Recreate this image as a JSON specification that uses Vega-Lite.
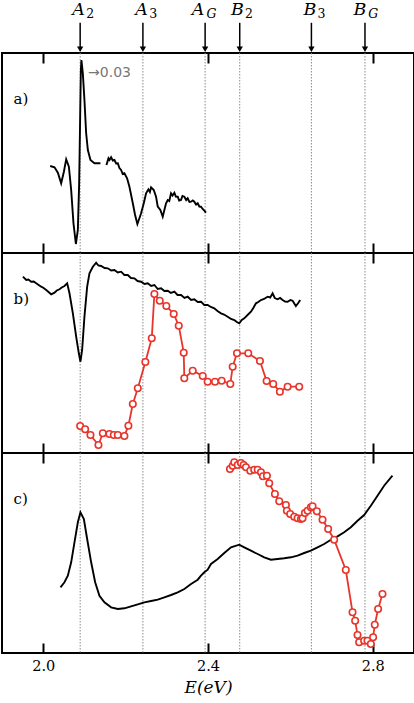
{
  "$schema": "https://vega.github.io/schema/vega-lite/v6.json",
  "padding": {"left": 1, "top": 0, "right": 0, "bottom": 0},
  "spacing": 0,
  "bounds": "flush",
  "config": {
    "view": {"stroke": "black", "strokeWidth": 2},
    "axis": {"grid": false}
  },
  "datasets": {
    "marks": [
      {"e": 2.0897, "name": "A2"}, {"e": 2.242, "name": "A3"}, {"e": 2.393, "name": "AG"},
      {"e": 2.477, "name": "B2"}, {"e": 2.651, "name": "B3"}, {"e": 2.781, "name": "BG"}
    ],
    "head_base": [
      {"e": 2.0861, "t": "A"}, {"e": 2.2388, "t": "A"}, {"e": 2.3758, "t": "A"},
      {"e": 2.4715, "t": "B"}, {"e": 2.6473, "t": "B"}, {"e": 2.7685, "t": "B"}
    ],
    "head_sub": [
      {"e": 2.1141, "t": "2", "style": "normal"}, {"e": 2.2668, "t": "3", "style": "normal"},
      {"e": 2.4083, "t": "G", "style": "italic"}, {"e": 2.4995, "t": "2", "style": "normal"},
      {"e": 2.6753, "t": "3", "style": "normal"}, {"e": 2.8010, "t": "G", "style": "italic"}
    ],
    "a_line": [
      {"e": 2.0170, "v": 87, "seg": 1}, {"e": 2.0274, "v": 85.7, "seg": 1}, {"e": 2.0356, "v": 80.3, "seg": 1},
      {"e": 2.0436, "v": 69.7, "seg": 1}, {"e": 2.0502, "v": 81.3, "seg": 1}, {"e": 2.0558, "v": 93.7, "seg": 1},
      {"e": 2.0623, "v": 86.3, "seg": 1}, {"e": 2.0679, "v": 63, "seg": 1}, {"e": 2.0735, "v": 29.7, "seg": 1},
      {"e": 2.0793, "v": 9, "seg": 1}, {"e": 2.0841, "v": 23, "seg": 1}, {"e": 2.0873, "v": 70, "seg": 1},
      {"e": 2.0897, "v": 136.3, "seg": 1}, {"e": 2.0914, "v": 183, "seg": 1}, {"e": 2.0928, "v": 193, "seg": 1},
      {"e": 2.0962, "v": 179.7, "seg": 1}, {"e": 2.1001, "v": 153, "seg": 1}, {"e": 2.1042, "v": 120, "seg": 1},
      {"e": 2.1084, "v": 103, "seg": 1}, {"e": 2.1147, "v": 93, "seg": 1}, {"e": 2.1244, "v": 89.7, "seg": 1},
      {"e": 2.1389, "v": 89.7, "seg": 1},
      {"e": 2.1535, "v": 88, "seg": 2}, {"e": 2.1584, "v": 94.7, "seg": 2}, {"e": 2.1610, "v": 93, "seg": 2},
      {"e": 2.1648, "v": 95.7, "seg": 2}, {"e": 2.1690, "v": 92.5, "seg": 2}, {"e": 2.1729, "v": 93, "seg": 2},
      {"e": 2.1770, "v": 89.5, "seg": 2}, {"e": 2.1811, "v": 89.7, "seg": 2}, {"e": 2.1850, "v": 85, "seg": 2},
      {"e": 2.1891, "v": 83, "seg": 2}, {"e": 2.1930, "v": 79, "seg": 2}, {"e": 2.1971, "v": 79.7, "seg": 2},
      {"e": 2.2036, "v": 74.7, "seg": 2}, {"e": 2.2093, "v": 66.3, "seg": 2}, {"e": 2.2175, "v": 49.7, "seg": 2},
      {"e": 2.2230, "v": 38, "seg": 2}, {"e": 2.2286, "v": 29, "seg": 2}, {"e": 2.2335, "v": 34.7, "seg": 2},
      {"e": 2.2376, "v": 39.7, "seg": 2}, {"e": 2.2441, "v": 49.7, "seg": 2}, {"e": 2.2497, "v": 59.7, "seg": 2},
      {"e": 2.2553, "v": 63.7, "seg": 2}, {"e": 2.2590, "v": 61, "seg": 2}, {"e": 2.2618, "v": 65.7, "seg": 2},
      {"e": 2.2684, "v": 63, "seg": 2}, {"e": 2.2739, "v": 56.3, "seg": 2}, {"e": 2.2780, "v": 46.3, "seg": 2},
      {"e": 2.2844, "v": 43, "seg": 2}, {"e": 2.2901, "v": 36.3, "seg": 2}, {"e": 2.2941, "v": 43, "seg": 2},
      {"e": 2.2982, "v": 49.7, "seg": 2}, {"e": 2.3023, "v": 53, "seg": 2}, {"e": 2.3060, "v": 52, "seg": 2},
      {"e": 2.3103, "v": 59.7, "seg": 2}, {"e": 2.3140, "v": 57.5, "seg": 2}, {"e": 2.3184, "v": 60.3, "seg": 2},
      {"e": 2.3220, "v": 56.5, "seg": 2}, {"e": 2.3265, "v": 56.3, "seg": 2}, {"e": 2.3300, "v": 52.5, "seg": 2},
      {"e": 2.3345, "v": 53, "seg": 2}, {"e": 2.3380, "v": 57, "seg": 2}, {"e": 2.3426, "v": 56.3, "seg": 2},
      {"e": 2.3470, "v": 53, "seg": 2}, {"e": 2.3507, "v": 54.7, "seg": 2}, {"e": 2.3550, "v": 51, "seg": 2},
      {"e": 2.3588, "v": 51.3, "seg": 2}, {"e": 2.3630, "v": 52.5, "seg": 2}, {"e": 2.3668, "v": 51.3, "seg": 2},
      {"e": 2.3710, "v": 48.5, "seg": 2}, {"e": 2.3749, "v": 49.7, "seg": 2}, {"e": 2.3790, "v": 46.5, "seg": 2},
      {"e": 2.3830, "v": 46.3, "seg": 2}, {"e": 2.3870, "v": 44, "seg": 2}, {"e": 2.3911, "v": 42.3, "seg": 2},
      {"e": 2.3952, "v": 40.3, "seg": 2}
    ],
    "b_line": [
      {"e": 1.9508, "v": 176.3}, {"e": 1.9588, "v": 173}, {"e": 1.9640, "v": 173.5}, {"e": 1.9709, "v": 171.3},
      {"e": 1.9770, "v": 171.5}, {"e": 1.9830, "v": 169.7}, {"e": 1.9890, "v": 168}, {"e": 1.9952, "v": 166.3},
      {"e": 2.0010, "v": 165}, {"e": 2.0073, "v": 163}, {"e": 2.0130, "v": 161}, {"e": 2.0194, "v": 158.7},
      {"e": 2.0274, "v": 160.3}, {"e": 2.0330, "v": 162.5}, {"e": 2.0395, "v": 163.7}, {"e": 2.0450, "v": 165.5},
      {"e": 2.0516, "v": 167}, {"e": 2.0582, "v": 169.7}, {"e": 2.0638, "v": 159.7}, {"e": 2.0720, "v": 139.7},
      {"e": 2.0800, "v": 116.3}, {"e": 2.0865, "v": 99.7}, {"e": 2.0904, "v": 91.3}, {"e": 2.0945, "v": 103},
      {"e": 2.1001, "v": 136.3}, {"e": 2.1067, "v": 166.3}, {"e": 2.1123, "v": 179.7}, {"e": 2.1205, "v": 186.3},
      {"e": 2.1285, "v": 190.3}, {"e": 2.1340, "v": 187.5}, {"e": 2.1406, "v": 187}, {"e": 2.1490, "v": 185},
      {"e": 2.1568, "v": 184.7}, {"e": 2.1650, "v": 182.5}, {"e": 2.1729, "v": 183}, {"e": 2.1810, "v": 180.5},
      {"e": 2.1891, "v": 181.3}, {"e": 2.1970, "v": 178}, {"e": 2.2053, "v": 178}, {"e": 2.2130, "v": 175},
      {"e": 2.2214, "v": 174.7}, {"e": 2.2290, "v": 172}, {"e": 2.2376, "v": 171.3}, {"e": 2.2460, "v": 169},
      {"e": 2.2538, "v": 169.7}, {"e": 2.2620, "v": 167}, {"e": 2.2699, "v": 168}, {"e": 2.2780, "v": 164},
      {"e": 2.2861, "v": 164.7}, {"e": 2.2940, "v": 162}, {"e": 2.3023, "v": 162.3}, {"e": 2.3100, "v": 160},
      {"e": 2.3184, "v": 161.3}, {"e": 2.3260, "v": 158}, {"e": 2.3345, "v": 158}, {"e": 2.3430, "v": 155},
      {"e": 2.3507, "v": 156.3}, {"e": 2.3590, "v": 153}, {"e": 2.3668, "v": 153.7}, {"e": 2.3750, "v": 151},
      {"e": 2.3830, "v": 151.3}, {"e": 2.3910, "v": 148}, {"e": 2.3992, "v": 148}, {"e": 2.4070, "v": 146},
      {"e": 2.4153, "v": 144.7}, {"e": 2.4230, "v": 142}, {"e": 2.4315, "v": 139.7}, {"e": 2.4390, "v": 138.5},
      {"e": 2.4477, "v": 136.3}, {"e": 2.4560, "v": 134}, {"e": 2.4638, "v": 133}, {"e": 2.4700, "v": 131},
      {"e": 2.4759, "v": 129.7}, {"e": 2.4820, "v": 133}, {"e": 2.4880, "v": 134.7}, {"e": 2.4960, "v": 138},
      {"e": 2.5042, "v": 141.3}, {"e": 2.5100, "v": 145}, {"e": 2.5164, "v": 149.7}, {"e": 2.5220, "v": 151},
      {"e": 2.5285, "v": 153}, {"e": 2.5360, "v": 154}, {"e": 2.5447, "v": 156.3}, {"e": 2.5510, "v": 155.5},
      {"e": 2.5568, "v": 159.7}, {"e": 2.5620, "v": 155}, {"e": 2.5689, "v": 153.7}, {"e": 2.5750, "v": 155},
      {"e": 2.5811, "v": 153}, {"e": 2.5870, "v": 151.5}, {"e": 2.5932, "v": 151.3}, {"e": 2.6000, "v": 153},
      {"e": 2.6053, "v": 152.3}, {"e": 2.6133, "v": 147}, {"e": 2.6190, "v": 150}, {"e": 2.6238, "v": 153}
    ],
    "b_red": [
      {"e": 2.0897, "v": 27}, {"e": 2.1018, "v": 23.7}, {"e": 2.1147, "v": 18}, {"e": 2.1341, "v": 8},
      {"e": 2.1447, "v": 19.7}, {"e": 2.1607, "v": 19}, {"e": 2.1713, "v": 18}, {"e": 2.1811, "v": 18},
      {"e": 2.1971, "v": 17}, {"e": 2.2068, "v": 27.3}, {"e": 2.2175, "v": 49}, {"e": 2.2296, "v": 64.7},
      {"e": 2.2480, "v": 91}, {"e": 2.2635, "v": 114.7}, {"e": 2.2699, "v": 159}, {"e": 2.2829, "v": 152.3},
      {"e": 2.2989, "v": 147}, {"e": 2.3168, "v": 139}, {"e": 2.3290, "v": 127.3}, {"e": 2.3411, "v": 100.3},
      {"e": 2.3425, "v": 74.7}, {"e": 2.3629, "v": 82.3}, {"e": 2.3872, "v": 77}, {"e": 2.3992, "v": 71.3},
      {"e": 2.4170, "v": 71.3}, {"e": 2.4332, "v": 72.3}, {"e": 2.4541, "v": 69}, {"e": 2.4599, "v": 86.3},
      {"e": 2.4703, "v": 99.7}, {"e": 2.4977, "v": 99.7}, {"e": 2.5261, "v": 92}, {"e": 2.5423, "v": 72},
      {"e": 2.5583, "v": 69}, {"e": 2.5745, "v": 61.3}, {"e": 2.5932, "v": 66.3}, {"e": 2.6214, "v": 66.3}
    ],
    "c_line": [
      {"e": 2.0419, "v": 65.7}, {"e": 2.0516, "v": 70.7}, {"e": 2.0598, "v": 77.3}, {"e": 2.0679, "v": 90.7},
      {"e": 2.0759, "v": 110.7}, {"e": 2.0841, "v": 130.7}, {"e": 2.0904, "v": 140.7}, {"e": 2.0987, "v": 134},
      {"e": 2.1067, "v": 114}, {"e": 2.1164, "v": 90.7}, {"e": 2.1261, "v": 70.7}, {"e": 2.1365, "v": 57.3},
      {"e": 2.1486, "v": 50.7}, {"e": 2.1648, "v": 45.7}, {"e": 2.1811, "v": 44}, {"e": 2.1971, "v": 44.7},
      {"e": 2.2133, "v": 46.7}, {"e": 2.2296, "v": 48.7}, {"e": 2.2456, "v": 50.7}, {"e": 2.2618, "v": 52},
      {"e": 2.2780, "v": 53.3}, {"e": 2.2941, "v": 55.7}, {"e": 2.3103, "v": 58}, {"e": 2.3265, "v": 60.7},
      {"e": 2.3426, "v": 64}, {"e": 2.3588, "v": 69}, {"e": 2.3750, "v": 73.3}, {"e": 2.3830, "v": 77.3},
      {"e": 2.3911, "v": 80.7}, {"e": 2.3992, "v": 83.3}, {"e": 2.4073, "v": 89}, {"e": 2.4235, "v": 94},
      {"e": 2.4395, "v": 100}, {"e": 2.4558, "v": 105.7}, {"e": 2.4759, "v": 108.3}, {"e": 2.4880, "v": 105.7},
      {"e": 2.5042, "v": 102.3}, {"e": 2.5205, "v": 99}, {"e": 2.5365, "v": 95.7}, {"e": 2.5527, "v": 93.3},
      {"e": 2.5689, "v": 94}, {"e": 2.5850, "v": 94.7}, {"e": 2.6012, "v": 95.7}, {"e": 2.6174, "v": 97.3},
      {"e": 2.6335, "v": 100}, {"e": 2.6497, "v": 102.3}, {"e": 2.6659, "v": 105.7}, {"e": 2.6820, "v": 109},
      {"e": 2.6982, "v": 113.3}, {"e": 2.7144, "v": 116.7}, {"e": 2.7305, "v": 120.7}, {"e": 2.7467, "v": 125.7},
      {"e": 2.7629, "v": 132.3}, {"e": 2.7790, "v": 138}, {"e": 2.7952, "v": 147.3}, {"e": 2.8114, "v": 157.3},
      {"e": 2.8274, "v": 167.3}, {"e": 2.8477, "v": 177.3}
    ],
    "c_red": [
      {"e": 2.4533, "v": 184}, {"e": 2.4599, "v": 187.3}, {"e": 2.4638, "v": 190.7}, {"e": 2.4720, "v": 188},
      {"e": 2.4800, "v": 190}, {"e": 2.4865, "v": 188}, {"e": 2.4921, "v": 185.7}, {"e": 2.5025, "v": 182.3},
      {"e": 2.5122, "v": 183.3}, {"e": 2.5205, "v": 183.3}, {"e": 2.5285, "v": 180.7}, {"e": 2.5333, "v": 176.7},
      {"e": 2.5430, "v": 177.3}, {"e": 2.5486, "v": 169.7}, {"e": 2.5624, "v": 159}, {"e": 2.5729, "v": 151.7},
      {"e": 2.5891, "v": 148}, {"e": 2.5915, "v": 142.3}, {"e": 2.5995, "v": 139}, {"e": 2.6092, "v": 136.3},
      {"e": 2.6174, "v": 134.7}, {"e": 2.6255, "v": 134}, {"e": 2.6295, "v": 134.7}, {"e": 2.6352, "v": 140},
      {"e": 2.6417, "v": 142.3}, {"e": 2.6497, "v": 145.7}, {"e": 2.6538, "v": 146.7}, {"e": 2.6642, "v": 141.7},
      {"e": 2.6780, "v": 133.3}, {"e": 2.6917, "v": 124}, {"e": 2.7062, "v": 113.3}, {"e": 2.7345, "v": 83},
      {"e": 2.7508, "v": 40.7}, {"e": 2.7572, "v": 32.3}, {"e": 2.7629, "v": 18}, {"e": 2.7668, "v": 10.7},
      {"e": 2.7790, "v": 12.3}, {"e": 2.7871, "v": 12.3}, {"e": 2.7952, "v": 9}, {"e": 2.8008, "v": 15.7},
      {"e": 2.8048, "v": 28.3}, {"e": 2.8129, "v": 44}, {"e": 2.8235, "v": 59}
    ]
  },
  "vconcat": [
    {
      "width": 412, "height": 53,
      "view": {"stroke": null},
      "layer": [
        {
          "data": {"name": "marks"},
          "mark": {"type": "rule", "color": "black", "strokeWidth": 1.5},
          "encoding": {
            "x": {"field": "e", "type": "quantitative", "scale": {"domain": [1.9, 2.9], "nice": false, "zero": false}, "axis": null},
            "y": {"datum": 0.08, "type": "quantitative", "scale": {"domain": [0, 1]}, "axis": null},
            "y2": {"datum": 0.57}
          }
        },
        {
          "data": {"name": "marks"},
          "mark": {"type": "point", "shape": "triangle-down", "filled": true, "color": "black", "size": 40, "opacity": 1},
          "encoding": {
            "x": {"field": "e", "type": "quantitative"},
            "y": {"datum": 0.07, "type": "quantitative"}
          }
        },
        {
          "data": {"name": "head_base"},
          "mark": {"type": "text", "font": "DejaVu Serif", "fontStyle": "italic", "fontSize": 17.5, "baseline": "middle", "align": "center"},
          "encoding": {
            "x": {"field": "e", "type": "quantitative"},
            "y": {"datum": 0.81, "type": "quantitative"},
            "text": {"field": "t"}
          }
        },
        {
          "data": {"name": "head_sub"},
          "transform": [{"filter": "datum.style === 'normal'"}],
          "mark": {"type": "text", "font": "DejaVu Serif", "fontSize": 12.5, "baseline": "middle", "align": "center"},
          "encoding": {
            "x": {"field": "e", "type": "quantitative"},
            "y": {"datum": 0.74, "type": "quantitative"},
            "text": {"field": "t"}
          }
        },
        {
          "data": {"name": "head_sub"},
          "transform": [{"filter": "datum.style === 'italic'"}],
          "mark": {"type": "text", "font": "DejaVu Serif", "fontStyle": "italic", "fontSize": 12.5, "baseline": "middle", "align": "center"},
          "encoding": {
            "x": {"field": "e", "type": "quantitative"},
            "y": {"datum": 0.74, "type": "quantitative"},
            "text": {"field": "t"}
          }
        }
      ]
    },
    {
      "width": 412, "height": 200,
      "layer": [
        {
          "data": {"name": "marks"},
          "mark": {"type": "rule", "color": "#8a8a8a", "strokeWidth": 1, "strokeDash": [1.5, 1.5]},
          "encoding": {
            "x": {"field": "e", "type": "quantitative", "scale": {"domain": [1.9, 2.9], "nice": false, "zero": false},
              "axis": {"orient": "top", "values": [2.0, 2.4, 2.8], "tickSize": -10, "tickWidth": 2, "tickColor": "black", "labels": false, "domain": false, "title": null}}
          }
        },
        {
          "data": {"name": "a_line"},
          "mark": {"type": "line", "color": "black", "strokeWidth": 1.9},
          "encoding": {
            "x": {"field": "e", "type": "quantitative",
              "axis": {"orient": "bottom", "values": [2.0, 2.4, 2.8], "tickSize": -10, "tickWidth": 2, "tickColor": "black", "labels": false, "domain": false, "title": null}},
            "y": {"field": "v", "type": "quantitative", "scale": {"domain": [0, 200]}, "axis": null},
            "detail": {"field": "seg"}
          }
        },
        {
          "data": {"values": [{"e": 1.928, "v": 154, "t": "a)"}]},
          "mark": {"type": "text", "font": "DejaVu Serif", "fontSize": 15, "align": "left", "baseline": "middle"},
          "encoding": {
            "x": {"field": "e", "type": "quantitative", "axis": null},
            "y": {"field": "v", "type": "quantitative"},
            "text": {"field": "t"}
          }
        },
        {
          "data": {"values": [{"e": 2.109, "v": 180, "t": "→0.03"}]},
          "mark": {"type": "text", "font": "DejaVu Sans", "fontSize": 14, "color": "#777777", "align": "left", "baseline": "middle"},
          "encoding": {
            "x": {"field": "e", "type": "quantitative", "axis": null},
            "y": {"field": "v", "type": "quantitative"},
            "text": {"field": "t"}
          }
        }
      ],
      "resolve": {"axis": {"x": "independent"}}
    },
    {
      "width": 412, "height": 200,
      "layer": [
        {
          "data": {"name": "marks"},
          "mark": {"type": "rule", "color": "#8a8a8a", "strokeWidth": 1, "strokeDash": [1.5, 1.5]},
          "encoding": {
            "x": {"field": "e", "type": "quantitative", "scale": {"domain": [1.9, 2.9], "nice": false, "zero": false},
              "axis": {"orient": "top", "values": [2.0, 2.4, 2.8], "tickSize": -10, "tickWidth": 2, "tickColor": "black", "labels": false, "domain": false, "title": null}}
          }
        },
        {
          "data": {"name": "b_line"},
          "mark": {"type": "line", "color": "black", "strokeWidth": 1.9},
          "encoding": {
            "x": {"field": "e", "type": "quantitative",
              "axis": {"orient": "bottom", "values": [2.0, 2.4, 2.8], "tickSize": -10, "tickWidth": 2, "tickColor": "black", "labels": false, "domain": false, "title": null}},
            "y": {"field": "v", "type": "quantitative", "scale": {"domain": [0, 200]}, "axis": null}
          }
        },
        {
          "data": {"name": "b_red"},
          "mark": {"type": "line", "color": "#e8352b", "strokeWidth": 1.8},
          "encoding": {
            "x": {"field": "e", "type": "quantitative", "axis": null},
            "y": {"field": "v", "type": "quantitative"}
          }
        },
        {
          "data": {"name": "b_red"},
          "mark": {"type": "point", "shape": "circle", "filled": true, "fill": "white", "stroke": "#e8352b", "strokeWidth": 1.6, "size": 42, "opacity": 1},
          "encoding": {
            "x": {"field": "e", "type": "quantitative", "axis": null},
            "y": {"field": "v", "type": "quantitative"}
          }
        },
        {
          "data": {"values": [{"e": 1.928, "v": 154, "t": "b)"}]},
          "mark": {"type": "text", "font": "DejaVu Serif", "fontSize": 15, "align": "left", "baseline": "middle"},
          "encoding": {
            "x": {"field": "e", "type": "quantitative", "axis": null},
            "y": {"field": "v", "type": "quantitative"},
            "text": {"field": "t"}
          }
        }
      ],
      "resolve": {"axis": {"x": "independent"}}
    },
    {
      "width": 412, "height": 200,
      "layer": [
        {
          "data": {"name": "marks"},
          "mark": {"type": "rule", "color": "#8a8a8a", "strokeWidth": 1, "strokeDash": [1.5, 1.5]},
          "encoding": {
            "x": {"field": "e", "type": "quantitative", "scale": {"domain": [1.9, 2.9], "nice": false, "zero": false},
              "axis": {"orient": "top", "values": [2.0, 2.4, 2.8], "tickSize": -10, "tickWidth": 2, "tickColor": "black", "labels": false, "domain": false, "title": null}}
          }
        },
        {
          "data": {"name": "c_line"},
          "mark": {"type": "line", "color": "black", "strokeWidth": 1.9},
          "encoding": {
            "x": {"field": "e", "type": "quantitative",
              "axis": {"orient": "bottom", "values": [2.0, 2.4, 2.8], "format": ".1f", "tickSize": -10, "tickWidth": 2, "tickColor": "black", "domain": false,
                "labelFont": "DejaVu Serif", "labelFontSize": 14.5, "labelColor": "black", "labelPadding": 16,
                "title": "E(eV)", "titleFont": "DejaVu Serif", "titleFontStyle": "italic", "titleFontWeight": "normal", "titleFontSize": 17, "titleColor": "black", "titlePadding": 7}},
            "y": {"field": "v", "type": "quantitative", "scale": {"domain": [0, 200]}, "axis": null}
          }
        },
        {
          "data": {"name": "c_red"},
          "mark": {"type": "line", "color": "#e8352b", "strokeWidth": 1.8},
          "encoding": {
            "x": {"field": "e", "type": "quantitative", "axis": null},
            "y": {"field": "v", "type": "quantitative"}
          }
        },
        {
          "data": {"name": "c_red"},
          "mark": {"type": "point", "shape": "circle", "filled": true, "fill": "white", "stroke": "#e8352b", "strokeWidth": 1.6, "size": 42, "opacity": 1},
          "encoding": {
            "x": {"field": "e", "type": "quantitative", "axis": null},
            "y": {"field": "v", "type": "quantitative"}
          }
        },
        {
          "data": {"values": [{"e": 1.928, "v": 154, "t": "c)"}]},
          "mark": {"type": "text", "font": "DejaVu Serif", "fontSize": 15, "align": "left", "baseline": "middle"},
          "encoding": {
            "x": {"field": "e", "type": "quantitative", "axis": null},
            "y": {"field": "v", "type": "quantitative"},
            "text": {"field": "t"}
          }
        }
      ],
      "resolve": {"axis": {"x": "independent"}}
    }
  ]
}
